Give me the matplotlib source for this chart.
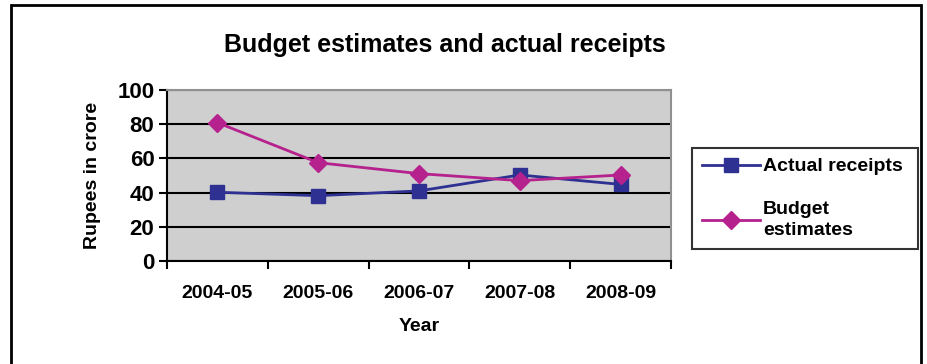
import matplotlib.pyplot as plt
from matplotlib.patches import Rectangle
import numpy as np

# ====== DATA ======
years = ["2004-05", "2005-06", "2006-07", "2007-08", "2008-09"]
actual_receipts = [40.2, 38.2, 41.0, 50.3, 44.8]
budget_estimates = [80.9, 57.5, 51.1, 47.0, 50.3]

plt.rcParams['font.family'] = ['Liberation Sans', 'DejaVu Sans']
plt.rcParams['font.weight'] = 'bold'

W, H = 927, 364
fig = plt.figure(figsize=(W / 100, H / 100), dpi=100)

# outer frame of the chart
fig.patches.append(Rectangle((11 / W, -0.05), (921 - 11) / W, 1.05 - 5 / H,
                             transform=fig.transFigure, fill=False,
                             edgecolor='black', linewidth=2))

ax = fig.add_axes([167 / W, 1 - 261 / H, (671 - 167) / W, (261 - 90) / H])
ax.set_facecolor('#cfcfcf')

x = np.arange(len(years))
ax.plot(x, actual_receipts, color='#2e3192', linewidth=2, marker='s',
        markersize=10, label='Actual receipts')
ax.plot(x, budget_estimates, color='#b5218d', linewidth=2, marker='D',
        markersize=9, label='Budget\nestimates')

ax.set_xlim(-0.5, len(years) - 0.5)
ax.set_ylim(0, 100)
ax.set_yticks(range(0, 101, 20))
ax.set_xticks(x)
ax.set_xticklabels(years, fontsize=14, fontweight='bold')
ax.set_xticks(np.arange(len(years) + 1) - 0.5, minor=True)
ax.tick_params(axis='x', which='major', length=0, pad=17)
ax.tick_params(axis='x', which='minor', length=6, width=1.5, direction='out')
ax.tick_params(axis='y', length=6, width=1.5, labelsize=16, pad=3)
for lab in ax.get_yticklabels():
    lab.set_fontweight('bold')

ax.grid(axis='y', color='black', linewidth=1.5)
ax.set_axisbelow(True)
for s in ['top', 'right']:
    ax.spines[s].set_color('#909090')
    ax.spines[s].set_linewidth(1.5)
for s in ['left', 'bottom']:
    ax.spines[s].set_color('black')
    ax.spines[s].set_linewidth(1.5)

ax.set_ylabel('Rupees in crore', fontsize=14, fontweight='bold', labelpad=12)
ax.set_xlabel('Year', fontsize=14, fontweight='bold', labelpad=12)
fig.text(445 / W, 1 - 45 / H, 'Budget estimates and actual receipts',
         ha='center', va='center', fontsize=18, fontweight='bold')

leg = ax.legend(loc='center left', bbox_to_anchor=(692 / W, 1 - 250 / H, (918 - 692) / W, (250 - 147) / H),
                bbox_transform=fig.transFigure, mode='expand', frameon=True,
                fancybox=False, edgecolor='black', prop={'weight': 'bold', 'size': 14},
                handlelength=3.0, handletextpad=0.15, labelspacing=1.3, borderaxespad=0,
                borderpad=0.5)
for t in leg.get_texts():
    t.set_linespacing(1.35)
leg.get_frame().set_linewidth(1.5)

plt.savefig('out.png', dpi=100)
